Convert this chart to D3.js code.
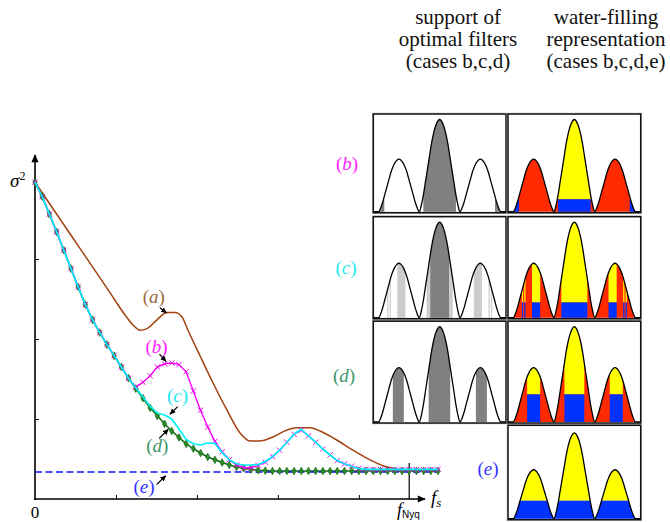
<!DOCTYPE html>
<html>
<head>
<meta charset="utf-8">
<script src="https://cdn.jsdelivr.net/npm/d3@7"></script>
<style>
  body { margin: 0; background: #fff; }
  svg { display: block; }
</style>
</head>
<body>
<div id="chart"></div>
<script>
// ---- main plot data (sample index 0..56, equally spaced up to f_s) ----
const greenVals = [3.96, 3.78, 3.56, 3.34, 3.11, 2.88, 2.65, 2.43, 2.24, 2.08,
  1.93, 1.79, 1.65, 1.51, 1.38, 1.26, 1.14, 1.04, 0.94, 0.85,
  0.77, 0.69, 0.63, 0.575, 0.525, 0.49, 0.455, 0.425, 0.40, 0.385,
  0.37, 0.36, 0.355, 0.35, 0.35, 0.35, 0.35, 0.35, 0.35, 0.35,
  0.35, 0.35, 0.35, 0.35, 0.35, 0.35, 0.35, 0.35, 0.35, 0.35,
  0.35, 0.35, 0.35, 0.35, 0.35, 0.35, 0.35];
const magentaVals = [3.96, 3.78, 3.56, 3.34, 3.11, 2.88, 2.65, 2.43, 2.24, 2.08,
  1.93, 1.79, 1.65, 1.51, 1.40, 1.46, 1.54, 1.65, 1.69, 1.70,
  1.68, 1.59, 1.35, 1.11, 0.90, 0.72, 0.59, 0.49, 0.425, 0.39,
  0.39, 0.42, 0.46, 0.53, 0.61, 0.71, 0.81, 0.86, 0.79, 0.71,
  0.625, 0.55, 0.48, 0.44, 0.41, 0.38, 0.37, 0.37, 0.37, 0.37,
  0.37, 0.37, 0.37, 0.37, 0.37, 0.37, 0.37];
const cyanVals = [3.96, 3.78, 3.56, 3.34, 3.11, 2.88, 2.65, 2.43, 2.24, 2.08,
  1.93, 1.79, 1.65, 1.51, 1.39, 1.275, 1.16, 1.075, 1.05, 1.00,
  0.875, 0.745, 0.69, 0.675, 0.70, 0.695, 0.58, 0.49, 0.44, 0.425,
  0.425, 0.43, 0.47, 0.53, 0.61, 0.71, 0.81, 0.87, 0.79, 0.71,
  0.625, 0.55, 0.48, 0.44, 0.41, 0.38, 0.37, 0.37, 0.37, 0.37,
  0.37, 0.37, 0.37, 0.37, 0.37, 0.37, 0.37];
const brownIdx = [0, 3.47, 6.95, 10.42, 12.51, 13.62, 14.59, 15.56, 16.95, 18.34,
  19.46, 20.43, 21.26, 22.93, 24.74, 26.68, 28.49, 29.88, 31.27, 33.07,
  35.02, 36.41, 38.22, 39.61, 41.69, 44.19, 46.55, 48.92, 50.72, 56];
const brownVals = [3.96, 3.50, 3.04, 2.58, 2.30, 2.175, 2.11, 2.13, 2.24, 2.33,
  2.33, 2.275, 2.11, 1.79, 1.45, 1.11, 0.825, 0.725, 0.725, 0.775,
  0.8625, 0.89, 0.89, 0.85, 0.75, 0.61, 0.49, 0.40, 0.37, 0.37];
const waterLevelE = 0.3375;
const sigma2 = 3.96;
const yTicks = [1, 2, 3];
const xTicks = [11.25, 22.5, 33.75, 45];
const fNyq = 52;

// curve labels: [letter, labelIdx, labelVal, arrowFromIdx, arrowFromVal, arrowToIdx, arrowToVal, colour]
const curveLabels = [
  ["a", 16.5, 2.45, 17.37, 2.39, 18.27, 2.325, "#9c6a3c"],
  ["b", 16.9, 1.825, 17.3, 1.81, 18.2, 1.72, "#ff22ff"],
  ["c", 19.8, 1.21, 19.83, 1.154, 18.76, 1.06, "#22e8f2"],
  ["d", 17.0, 0.59, 17.27, 0.76, 18.52, 0.87, "#3a9a6a"],
  ["e", 15.15, 0.07, 16.9, 0.18, 18.16, 0.29, "#3333ff"]
];

// ---- small panels data ----
const bumpCenters = [-1, 0, 1];
const bumpPeaks = [0.57, 1, 0.57];
const bumpProfile = [0, 0.07, 0.18, 0.32, 0.46, 0.60, 0.74, 0.85, 0.93, 0.98, 1,
  0.98, 0.93, 0.85, 0.74, 0.60, 0.46, 0.32, 0.18, 0.07, 0];
const supportB = [[-1.5, -1.36], [-0.4, 0.4], [1.36, 1.5]];
const supportC = [[-1.29, -1.26], [-1.23, -1.20], [-1.04, -0.84], [-0.32, 0.32],
  [0.84, 1.04], [1.20, 1.23], [1.26, 1.29]];
const supportCdark = [[-0.23, 0.23]];
const supportD = [[-1.15, -0.88], [-0.27, 0.26], [0.89, 1.16]];
const supportDwater = [[-1.16, -0.84], [-0.245, 0.245], [0.87, 1.19]];
const supportE = [[-1.7, 1.7]];
const levels = { b: 0.135, c: 0.16, d: 0.29, e: 0.21 };

// use the first installed serif face
function pickFont(cands, generic) {
  const ctx = document.createElement("canvas").getContext("2d");
  const s = "optimal filters (cases b,c,d) water-filling";
  ctx.font = "40px monospace";
  const base = ctx.measureText(s).width;
  for (const f of cands) {
    ctx.font = `40px '${f}', monospace`;
    if (Math.abs(ctx.measureText(s).width - base) > 0.5) return `'${f}', ${generic}`;
  }
  return generic;
}
const serif = pickFont(["Liberation Serif", "Times New Roman", "Tinos", "DejaVu Serif", "Noto Serif"], "serif");
const sans = pickFont(["Liberation Sans", "DejaVu Sans", "Noto Sans"], "sans-serif");

const W = 670, H = 522;
const svg = d3.select("#chart").append("svg").attr("width", W).attr("height", H);
const defs = svg.append("defs");

defs.append("marker").attr("id", "axisHead")
  .attr("viewBox", "0 0 10 10").attr("refX", 9).attr("refY", 5)
  .attr("markerWidth", 9).attr("markerHeight", 8)
  .attr("markerUnits", "userSpaceOnUse").attr("orient", "auto")
  .append("path").attr("d", "M0,0.5 L10,5 L0,9.5 Z").attr("fill", "#000");
defs.append("marker").attr("id", "noteHead")
  .attr("viewBox", "0 0 10 10").attr("refX", 9).attr("refY", 5)
  .attr("markerWidth", 6).attr("markerHeight", 6)
  .attr("markerUnits", "userSpaceOnUse").attr("orient", "auto")
  .append("path").attr("d", "M0,0.5 L10,5 L0,9.5 Z").attr("fill", "#000");

const x = d3.scaleLinear().domain([0, 56]).range([35, 438]);
const y = d3.scaleLinear().domain([0, 4]).range([499, 179]);
const idx = d3.range(greenVals.length);

// axes
svg.append("g")
  .attr("transform", "translate(35,0)")
  .call(d3.axisLeft(y).tickValues(yTicks).tickSize(-4).tickFormat(""))
  .call(g => g.select(".domain").remove())
  .selectAll("line").attr("stroke", "#000");
svg.append("g")
  .attr("transform", "translate(0,499)")
  .call(d3.axisBottom(x).tickValues(xTicks).tickSize(-4).tickFormat(""))
  .call(g => g.select(".domain").remove())
  .selectAll("line").attr("stroke", "#000");
svg.append("line").attr("x1", 35).attr("x2", 35).attr("y1", 500).attr("y2", 155)
  .attr("stroke", "#000").attr("stroke-width", 1.6).attr("marker-end", "url(#axisHead)");
svg.append("line").attr("x1", 34.2).attr("x2", 425).attr("y1", 499).attr("y2", 499)
  .attr("stroke", "#000").attr("stroke-width", 1.6).attr("marker-end", "url(#axisHead)");
svg.append("line").attr("x1", x(fNyq)).attr("x2", x(fNyq)).attr("y1", 463).attr("y2", 499)
  .attr("stroke", "#000").attr("stroke-width", 1.2);

// axis texts
const sig = svg.append("text").attr("x", 10).attr("y", y(sigma2) + 5)
  .style("font-family", serif).style("font-size", "19px");
sig.append("tspan").style("font-style", "italic").text("σ");
sig.append("tspan").attr("dy", -7).style("font-size", "12px").text("2");
svg.append("text").attr("x", 35).attr("y", 518).attr("text-anchor", "middle")
  .style("font-family", serif).style("font-size", "17px").text("0");
const fs = svg.append("text").attr("x", 431).attr("y", 504)
  .style("font-family", serif).style("font-size", "19px");
fs.append("tspan").style("font-style", "italic").text("f");
fs.append("tspan").attr("dy", 3).style("font-style", "italic").style("font-size", "13px").text("s");
const fn = svg.append("text").attr("x", 397).attr("y", 516)
  .style("font-family", serif).style("font-size", "18px");
fn.append("tspan").style("font-style", "italic").text("f");
fn.append("tspan").attr("dy", 2).style("font-family", sans)
  .style("font-size", "10px").text("Nyq");

// curves
const smooth = d3.line().x(d => x(d[0])).y(d => y(d[1])).curve(d3.curveMonotoneX);
svg.append("path").datum(brownIdx.map((v, i) => [v, brownVals[i]]))
  .attr("d", smooth).attr("fill", "none")
  .attr("stroke", "#a2410f").attr("stroke-width", 1.5);

const flat = d3.line().x(d => x(d[0])).y(d => y(d[1]));
svg.append("path").datum(idx.map(i => [i, greenVals[i]]))
  .attr("d", flat).attr("fill", "none").attr("stroke", "#137013").attr("stroke-width", 1.6);
svg.append("path").datum([[0, waterLevelE], [56, waterLevelE]])
  .attr("d", flat).attr("fill", "none").attr("stroke", "#1010ff")
  .attr("stroke-width", 1.6).attr("stroke-dasharray", "7,3.5");
svg.append("g").selectAll("path").data(idx).join("path")
  .attr("transform", i => `translate(${x(i)},${y(greenVals[i])})`)
  .attr("d", d3.symbol(d3.symbolDiamond, 17))
  .attr("fill", "#2a8c2a").attr("stroke", "#0d5a0d").attr("stroke-width", 0.6);

svg.append("path").datum(idx.map(i => [i, magentaVals[i]]))
  .attr("d", flat).attr("fill", "none").attr("stroke", "#ff00ff").attr("stroke-width", 1.4);
svg.append("g").selectAll("path").data(idx).join("path")
  .attr("transform", i => `translate(${x(i)},${y(magentaVals[i])})`)
  .attr("d", d3.symbol(d3.symbolTimes, 20))
  .attr("fill", "none").attr("stroke", "#e800e8").attr("stroke-width", 1);

svg.append("path").datum(idx.map(i => [i, cyanVals[i]]))
  .attr("d", flat).attr("fill", "none").attr("stroke", "#00f0f8").attr("stroke-width", 1.7);

// curve labels with arrows
function paren(g, px, py, letter, colour, size) {
  const t = g.append("text").attr("x", px).attr("y", py).attr("text-anchor", "middle")
    .style("font-family", serif).style("font-size", size + "px").attr("fill", colour);
  t.append("tspan").text("(");
  t.append("tspan").style("font-style", "italic").text(letter);
  t.append("tspan").text(")");
}
curveLabels.forEach(c => {
  paren(svg, x(c[1]), y(c[2]), c[0], c[7], 19);
  svg.append("line").attr("x1", x(c[3])).attr("y1", y(c[4]))
    .attr("x2", x(c[5])).attr("y2", y(c[6]))
    .attr("stroke", "#000").attr("stroke-width", 1.2).attr("marker-end", "url(#noteHead)");
});

// ---- panels ----
const colX = [373.3, 508];
const panelW = 132.7;
const rowY = [114, 216.7, 321.2, 425.3];
const rowH = [98.7, 102, 101.8, 94.4];
const rowTopPad = [5.5, 5.5, 5.5, 7.5];
const panelU = [-1.63, 1.63];
const bumpHalf = 0.5;

const spectrum = [[panelU[0], 0]];
bumpCenters.forEach((c, b) => {
  bumpProfile.forEach((p, k) => {
    if (b > 0 && k === 0) return;
    spectrum.push([c - bumpHalf + k * 2 * bumpHalf / (bumpProfile.length - 1), bumpPeaks[b] * p]);
  });
});
spectrum.push([panelU[1], 0]);

const panels = [
  { row: 0, col: 0, grey: [[supportB, "#808080"]] },
  { row: 0, col: 1, water: supportB, level: levels.b, red: true },
  { row: 1, col: 0, grey: [[supportC, "#cccccc"], [supportCdark, "#808080"]] },
  { row: 1, col: 1, water: supportC, level: levels.c, red: true },
  { row: 2, col: 0, grey: [[supportD, "#808080"]] },
  { row: 2, col: 1, water: supportDwater, level: levels.d, red: true },
  { row: 3, col: 1, water: supportE, level: levels.e, red: false }
];

panels.forEach((p, i) => {
  const px0 = colX[p.col], py0 = rowY[p.row], ph = rowH[p.row];
  const u = d3.scaleLinear().domain(panelU).range([px0, px0 + panelW]);
  const h = d3.scaleLinear().domain([0, 1]).range([py0 + ph - 1, py0 + rowTopPad[p.row]]);
  const area = d3.area().x(d => u(d[0])).y0(h(0)).y1(d => h(d[1])).curve(d3.curveMonotoneX);
  const outline = d3.line().x(d => u(d[0])).y(d => h(d[1])).curve(d3.curveMonotoneX);
  const clipId = "pclip" + i;
  defs.append("clipPath").attr("id", clipId).append("path").attr("d", area(spectrum));

  svg.append("rect").attr("x", px0).attr("y", py0).attr("width", panelW).attr("height", ph)
    .attr("fill", "#fff");
  const fills = svg.append("g").attr("clip-path", `url(#${clipId})`);
  if (p.grey) {
    p.grey.forEach(([ints, colour]) => {
      fills.selectAll(null).data(ints).join("rect")
        .attr("x", d => u(d[0])).attr("width", d => u(d[1]) - u(d[0]))
        .attr("y", py0).attr("height", ph).attr("fill", colour);
    });
  }
  if (p.water) {
    if (p.red) {
      fills.append("rect").attr("x", px0).attr("y", py0).attr("width", panelW).attr("height", ph)
        .attr("fill", "#ff2a00");
    }
    fills.selectAll(null).data(p.water).join("rect")
      .attr("x", d => u(d[0])).attr("width", d => u(d[1]) - u(d[0]))
      .attr("y", py0).attr("height", h(p.level) - py0).attr("fill", "#ffff00");
    fills.selectAll(null).data(p.water).join("rect")
      .attr("x", d => u(d[0])).attr("width", d => u(d[1]) - u(d[0]))
      .attr("y", h(p.level)).attr("height", h(0) - h(p.level) + 1).attr("fill", "#0033ff");
  }
  svg.append("path").attr("d", outline(spectrum)).attr("fill", "none")
    .attr("stroke", "#000").attr("stroke-width", 1.3);
  svg.append("rect").attr("x", px0 - 0.8).attr("y", py0 - 0.8)
    .attr("width", panelW + 1.6).attr("height", ph + 1.6)
    .attr("fill", "none").attr("stroke", "#b0b0b0").attr("stroke-width", 0.8);
  svg.append("rect").attr("x", px0).attr("y", py0).attr("width", panelW).attr("height", ph)
    .attr("fill", "none").attr("stroke", "#111").attr("stroke-width", 1.5);
});

// panel row labels
paren(svg, 347, 170, "b", "#ff22ff", 19);
paren(svg, 346, 274, "c", "#22e8f2", 19);
paren(svg, 344, 382, "d", "#3a9a6a", 19);
paren(svg, 488, 475, "e", "#3333ff", 19);

// column headers
const headers = [
  [458, ["support of", "optimal filters", "(cases b,c,d)"]],
  [606, ["water-filling", "representation", "(cases b,c,d,e)"]]
];
headers.forEach(([cx, lines]) => {
  lines.forEach((t, k) => {
    svg.append("text").attr("x", cx).attr("y", 24 + k * 22).attr("text-anchor", "middle")
      .style("font-family", serif).style("font-size", "21px").attr("fill", "#111").text(t);
  });
});
</script>
</body>
</html>
